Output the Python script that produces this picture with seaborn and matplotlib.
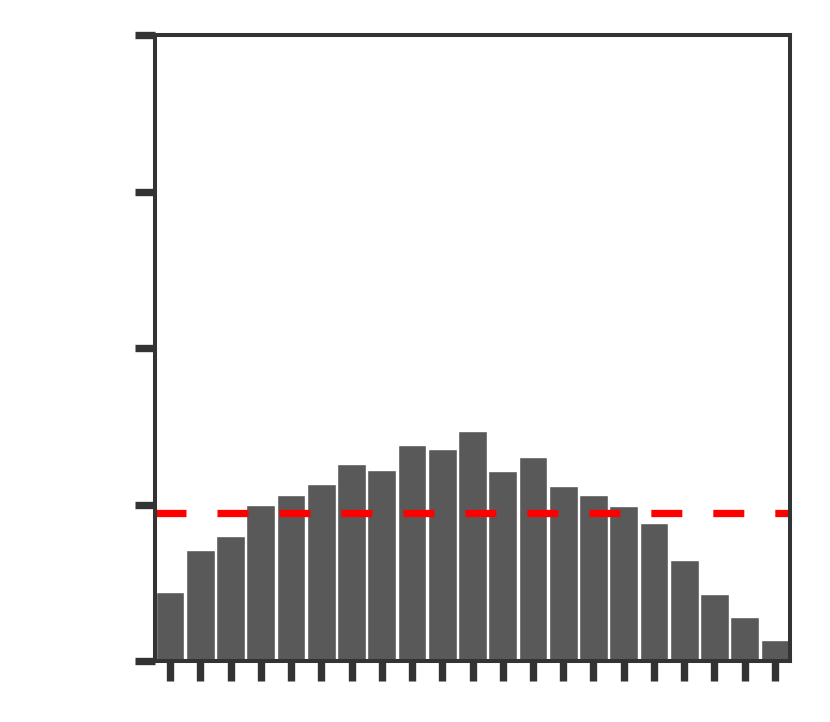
import matplotlib
matplotlib.use('Agg')
import matplotlib.pyplot as plt
import seaborn as sns
import pandas as pd
import numpy as np

# bar heights (y axis runs 0..4, no labels shown)
bins = list(range(21))
heights = [0.444, 0.712, 0.799, 1.000, 1.058, 1.128, 1.256, 1.219, 1.377, 1.354, 1.467,
           1.215, 1.301, 1.117, 1.059, 0.989, 0.879, 0.644, 0.426, 0.279, 0.132]
y_ticks = [0, 1, 2, 3, 4]

sns.set_style('white')
dark = '#333333'

fig = plt.figure(figsize=(8.3, 7.22), dpi=100)
ax = fig.add_axes([155 / 830, 1 - 661 / 722, 635 / 830, 626 / 722])

data = pd.DataFrame({'bin': bins, 'height': heights})
sns.barplot(data=data, x='bin', y='height', color='#595959', saturation=1,
            width=0.95, edgecolor='white', linewidth=1, ax=ax)

# mean line
ax.axhline(np.mean(heights), color='#ff0000', lw=5.25, linestyle=(0, (4.25, 4.25)))

ax.set_xlim(-0.5, len(bins) - 0.5)
ax.set_ylim(0, 4)
ax.set_yticks(y_ticks)
ax.set_xticks(bins)
ax.set_xticklabels([])
ax.set_yticklabels([])
ax.set_xlabel('')
ax.set_ylabel('')

for sp in ax.spines.values():
    sp.set_visible(True)
    sp.set_linewidth(2.9)
    sp.set_color(dark)

ax.tick_params(axis='both', direction='out', length=14.4, width=5.3, color=dark,
               bottom=True, left=True)

fig.savefig('out.png', dpi=100)
